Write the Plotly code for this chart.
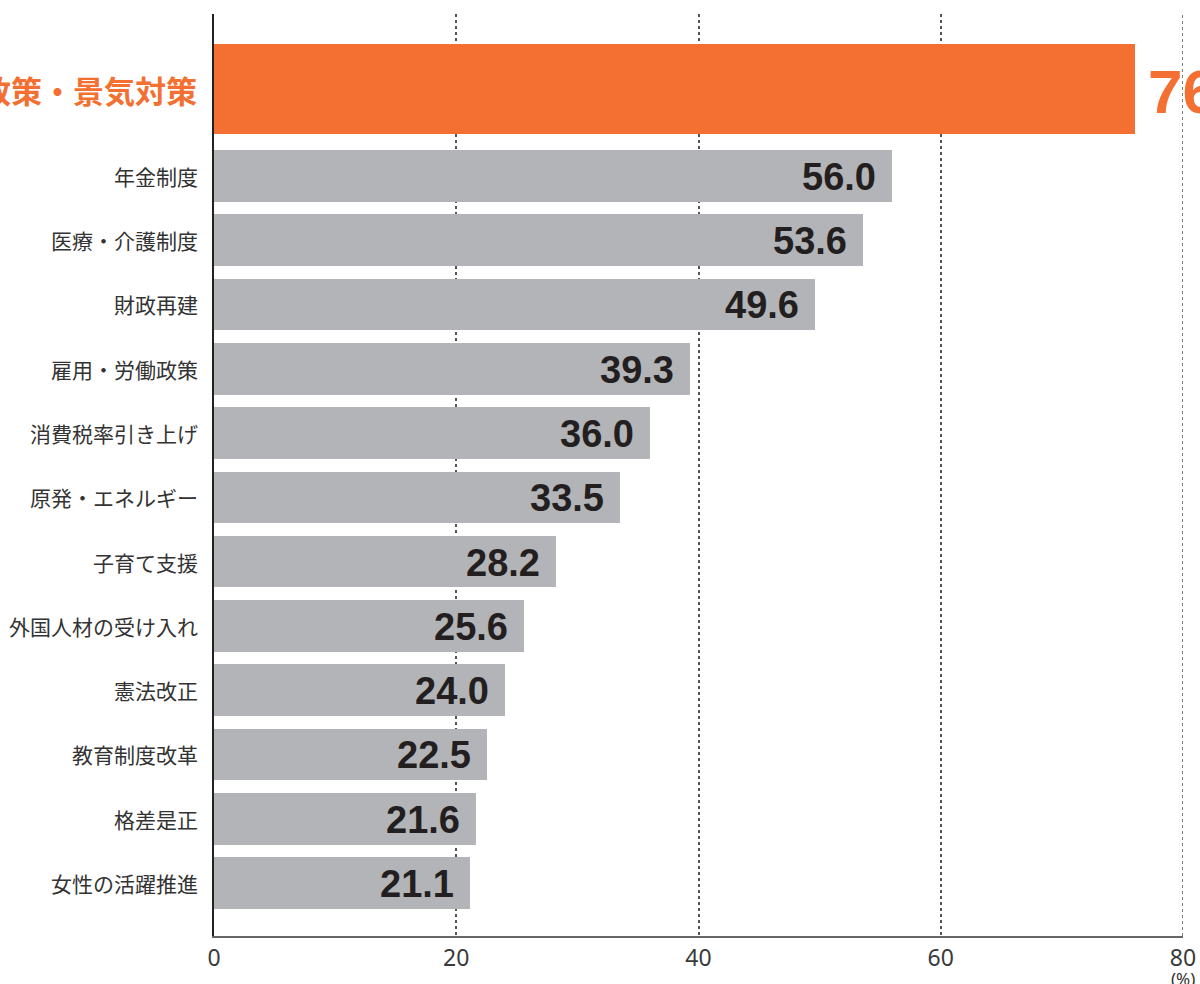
import plotly.graph_objects as go

categories = ["経済政策・景気対策", "年金制度", "医療・介護制度", "財政再建", "雇用・労働政策",
              "消費税率引き上げ", "原発・エネルギー", "子育て支援", "外国人材の受け入れ",
              "憲法改正", "教育制度改革", "格差是正", "女性の活躍推進"]
values = [76.0, 56.0, 53.6, 49.6, 39.3, 36.0, 33.5, 28.2, 25.6, 24.0, 22.5, 21.6, 21.1]
x_ticks = [0, 20, 40, 60, 80]

ORANGE = "#f37032"
GRAY = "#b3b4b7"
DARK = "#231f20"

# vertical layout: highlighted bar sits above, taller, with extra gap
ypos = [-1.35] + list(range(len(values) - 1))
widths = [1.404] + [0.804] * (len(values) - 1)

fig = go.Figure()
fig.add_trace(go.Bar(
    x=values[1:], y=ypos[1:], width=widths[1:], orientation="h",
    marker=dict(color=GRAY, line=dict(width=0)), hoverinfo="skip", showlegend=False))
fig.add_trace(go.Bar(
    x=values[:1], y=ypos[:1], width=widths[:1], orientation="h",
    marker=dict(color=ORANGE, line=dict(width=0)), hoverinfo="skip", showlegend=False))

ann = []
for i, (c, v) in enumerate(zip(categories, values)):
    if i == 0:
        ann.append(dict(x=0, xref="paper", y=ypos[i], yref="y", text=c, showarrow=False,
                        xanchor="right", yanchor="middle", xshift=-15,
                        font=dict(family="Noto Sans CJK JP", size=31, color=ORANGE, weight=700)))
        ann.append(dict(x=v, xref="x", y=ypos[i], yref="y", text=f"{v:.1f}", showarrow=False,
                        xanchor="left", yanchor="middle", xshift=11, yshift=-2,
                        font=dict(family="Liberation Sans", size=62, color=ORANGE, weight=700)))
    else:
        ann.append(dict(x=0, xref="paper", y=ypos[i], yref="y", text=c, showarrow=False,
                        xanchor="right", yanchor="middle", xshift=-14,
                        font=dict(family="Noto Sans CJK JP", size=21, color="#333333", weight=400)))
        ann.append(dict(x=v, xref="x", y=ypos[i], yref="y", text=f"{v:.1f}", showarrow=False,
                        xanchor="right", yanchor="middle", xshift=-14, yshift=-1,
                        font=dict(family="Liberation Sans", size=38, color=DARK, weight=700)))

ann.append(dict(x=1, xref="paper", y=0, yref="paper", text="(%)", showarrow=False,
                xanchor="center", yanchor="top", yshift=-29,
                font=dict(family="Noto Sans", size=17, color="#333333")))

shapes = [dict(type="line", xref="x", yref="paper", x0=80, x1=80, y0=0, y1=1,
               line=dict(color="#555555", width=1.5, dash="dot"), layer="above")]

fig.update_layout(
    width=1200, height=984, autosize=False,
    margin=dict(l=214, r=17, t=14, b=48),
    paper_bgcolor="white", plot_bgcolor="white",
    bargap=0, annotations=ann, shapes=shapes,
    xaxis=dict(range=[0, 80], tickvals=x_ticks, ticktext=[str(t) for t in x_ticks],
               showgrid=True, gridcolor="#555555", griddash="dot", gridwidth=1.5,
               showline=True, linecolor="#666666", linewidth=2, zeroline=False,
               ticks="", ticklabelstandoff=0, ticklabeloverflow="allow", automargin=False,
               tickfont=dict(family="Noto Sans", size=23, color="#3a3a3a"), fixedrange=True),
    yaxis=dict(range=[11.824, -2.519], showgrid=False, showticklabels=False,
               showline=True, linecolor="#222222", linewidth=2, zeroline=False,
               ticks="", fixedrange=True, automargin=False),
)

fig.write_html(
    "out.html", config={"displayModeBar": False},
    post_script=("document.documentElement.style.margin='0';"
                 "document.documentElement.style.overflow='hidden';"
                 "document.body.style.margin='0';document.body.style.overflow='hidden';"))
